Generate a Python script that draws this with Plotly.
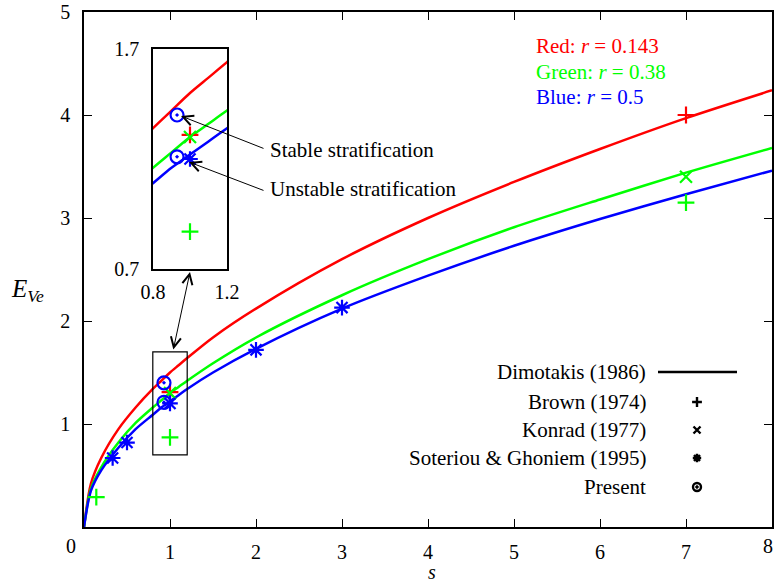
import plotly.graph_objects as go

# ---------------- data ----------------
s_curve = [0, 0.08, 0.2, 0.4, 0.6, 0.8, 0.9, 1.0, 1.1, 1.2, 1.5, 2, 3, 4, 5, 6, 7, 8]
E_red   = [0, 0.42, 0.67, 0.95, 1.16, 1.34, 1.42, 1.50, 1.57, 1.64, 1.84, 2.12, 2.60, 3.00, 3.35, 3.67, 3.97, 4.24]
E_green = [0, 0.37, 0.58, 0.82, 1.01, 1.16, 1.23, 1.30, 1.36, 1.42, 1.59, 1.84, 2.25, 2.60, 2.91, 3.18, 3.44, 3.68]
E_blue  = [0, 0.35, 0.55, 0.77, 0.95, 1.09, 1.16, 1.22, 1.28, 1.34, 1.50, 1.73, 2.12, 2.44, 2.73, 2.99, 3.23, 3.46]

brown_red_s, brown_red_E = [1.0, 7.0], [1.31, 4.00]
brown_green_s, brown_green_E = [0.143, 1.0, 7.0], [0.29, 0.87, 3.15]
konrad_green_s, konrad_green_E = [1.0, 7.0], [1.30, 3.40]
soteriou_blue_s, soteriou_blue_E = [0.333, 0.5, 1.0, 2.0, 3.0], [0.67, 0.82, 1.20, 1.72, 2.13]
present_blue_s, present_blue_E = [0.93, 0.93], [1.40, 1.21]

x_ticks = [1, 2, 3, 4, 5, 6, 7, 8]
y_ticks = [1, 2, 3, 4, 5]
inset_x_ticks = [0.8, 1.2]
inset_y_ticks = [0.7, 1.7]

legend_labels = ["Dimotakis (1986)", "Brown (1974)", "Konrad (1977)",
                 "Soteriou & Ghoniem (1995)", "Present"]

RED, GREEN, BLUE = "#ff0000", "#00ff00", "#0000ff"
FONT = "Liberation Serif"

# ---------------- geometry ----------------
W, H = 775, 583
L, R, T, B = 84, 772, 12, 527
def px(x):
    return (x - L) / (R - L)
def py(y):
    return (B - y) / (B - T)

fig = go.Figure()

def add_all(xa, ya):
    for yy, c in [(E_red, RED), (E_green, GREEN), (E_blue, BLUE)]:
        fig.add_trace(go.Scatter(x=s_curve, y=yy, mode="lines", xaxis=xa, yaxis=ya,
                                 line=dict(color=c, width=2.5, shape="spline", smoothing=0.8),
                                 showlegend=False, hoverinfo="skip"))
    mk = [
        (brown_red_s, brown_red_E, RED, "cross-thin-open", 12),
        (brown_green_s, brown_green_E, GREEN, "cross-thin-open", 12),
        (konrad_green_s, konrad_green_E, GREEN, "x-thin-open", 12),
        (soteriou_blue_s, soteriou_blue_E, BLUE, "asterisk-open", 13),
        (present_blue_s, present_blue_E, BLUE, "circle-open-dot", 13),
    ]
    for xs, ys, c, sym, sz in mk:
        fig.add_trace(go.Scatter(x=xs, y=ys, mode="markers", xaxis=xa, yaxis=ya,
                                 marker=dict(symbol=sym, size=sz, color=c,
                                             line=dict(color=c, width=2.2)),
                                 showlegend=False, hoverinfo="skip"))

add_all("x", "y")
add_all("x2", "y2")

# legend sample markers on a hidden pixel-mapped overlay axis
leg_rows = [372, 402, 430, 458, 487]
leg_x = 697
leg_syms = [("cross-thin-open", 7), ("x-thin-open", 7), ("asterisk-open", 7), ("circle-open-dot", 8)]
for (sym, sz), yrow in zip(leg_syms, leg_rows[1:]):
    fig.add_trace(go.Scatter(x=[leg_x], y=[yrow], mode="markers", xaxis="x3", yaxis="y3",
                             marker=dict(symbol=sym, size=sz, color="black",
                                         line=dict(color="black", width=2.4)),
                             showlegend=False, hoverinfo="skip", cliponaxis=False))

axis_common = dict(showline=True, linecolor="black", linewidth=1.5, mirror="allticks",
                   ticks="inside", ticklen=8, tickwidth=1, tickcolor="black",
                   showgrid=False, zeroline=False, automargin=False,
                   tickfont=dict(family=FONT, size=20, color="black"))

fig.update_layout(
    width=W, height=H, autosize=False,
    margin=dict(l=L, r=W - R, t=T, b=H - B, autoexpand=False),
    paper_bgcolor="white", plot_bgcolor="white",
    showlegend=False,
    xaxis=dict(range=[0, 8], tickvals=x_ticks, ticklabelstandoff=6, **axis_common),
    yaxis=dict(range=[0, 5], tickvals=y_ticks, ticklabelstandoff=8, **axis_common),
    xaxis2=dict(domain=[px(153), px(227)], anchor="y2", range=[0.8, 1.2],
                tickvals=inset_x_ticks, ticktext=["0.8", "1.2"], showline=True, mirror=True,
                linecolor="black", linewidth=1.5, ticks="", showgrid=False, zeroline=False,
                automargin=False,
                ticklabelstandoff=4, tickfont=dict(family=FONT, size=20, color="black")),
    yaxis2=dict(domain=[py(269), py(49)], anchor="x2", range=[0.7, 1.7],
                tickvals=inset_y_ticks, ticktext=["0.7", "1.7"], showline=True, mirror=True,
                linecolor="black", linewidth=1.5, ticks="", showgrid=False, zeroline=False,
                automargin=False,
                ticklabelstandoff=8, tickfont=dict(family=FONT, size=20, color="black")),
    xaxis3=dict(overlaying="x", anchor="y3", range=[L, R], visible=False, automargin=False),
    yaxis3=dict(overlaying="y", anchor="x3", range=[B, T], visible=False, automargin=False),
)

# zoom box on main axes
fig.add_shape(type="rect", xref="x", yref="y", x0=0.8, x1=1.2, y0=0.7, y1=1.7,
              line=dict(color="black", width=1.2))
# legend line sample
fig.add_shape(type="line", xref="paper", yref="paper", x0=px(658), x1=px(737),
              y0=py(372), y1=py(372), line=dict(color="black", width=2.5))

ann = []
def text(x, y, t, size=21, color="black", xanchor="center", yanchor="middle"):
    ann.append(dict(x=px(x), y=py(y), xref="paper", yref="paper", text=t, showarrow=False,
                    xanchor=xanchor, yanchor=yanchor,
                    font=dict(family=FONT, size=size, color=color)))

for lab, yrow in zip(legend_labels, leg_rows):
    text(648, yrow, lab, xanchor="right")

text(534, 46, "Red: <i>r</i> = 0.143", color=RED, xanchor="left")
text(534, 72, "Green: <i>r</i> = 0.38", color=GREEN, xanchor="left")
text(534, 97, "Blue: <i>r</i> = 0.5", color=BLUE, xanchor="left")

text(268, 150, "Stable stratification", xanchor="left")
text(268, 189, "Unstable stratification", xanchor="left")

text(71, 546, "0", size=20)
text(775, 546, "8", size=20, xanchor="right")
text(432, 572, "<i>s</i>", size=20)
text(28, 290, "<i>E</i><sub><i>Ve</i></sub>", size=25)

def arrow(hx, hy, tx, ty, side="end"):
    ann.append(dict(x=px(hx), y=py(hy), xref="paper", yref="paper", text="",
                    showarrow=True, ax=tx - hx, ay=ty - hy, axref="pixel", ayref="pixel",
                    arrowhead=5, arrowsize=2, arrowwidth=1, arrowcolor="black",
                    arrowside=side, startarrowhead=5, startarrowsize=2))

arrow(181, 116, 265, 149)
arrow(189, 162, 265, 191)
arrow(190, 272, 173, 351, side="end+start")

fig.update_layout(annotations=ann)

fig.write_html("out.html",
               config={"responsive": False, "displayModeBar": False},
               post_script="document.body.style.margin='0';document.body.style.overflow='hidden';")
